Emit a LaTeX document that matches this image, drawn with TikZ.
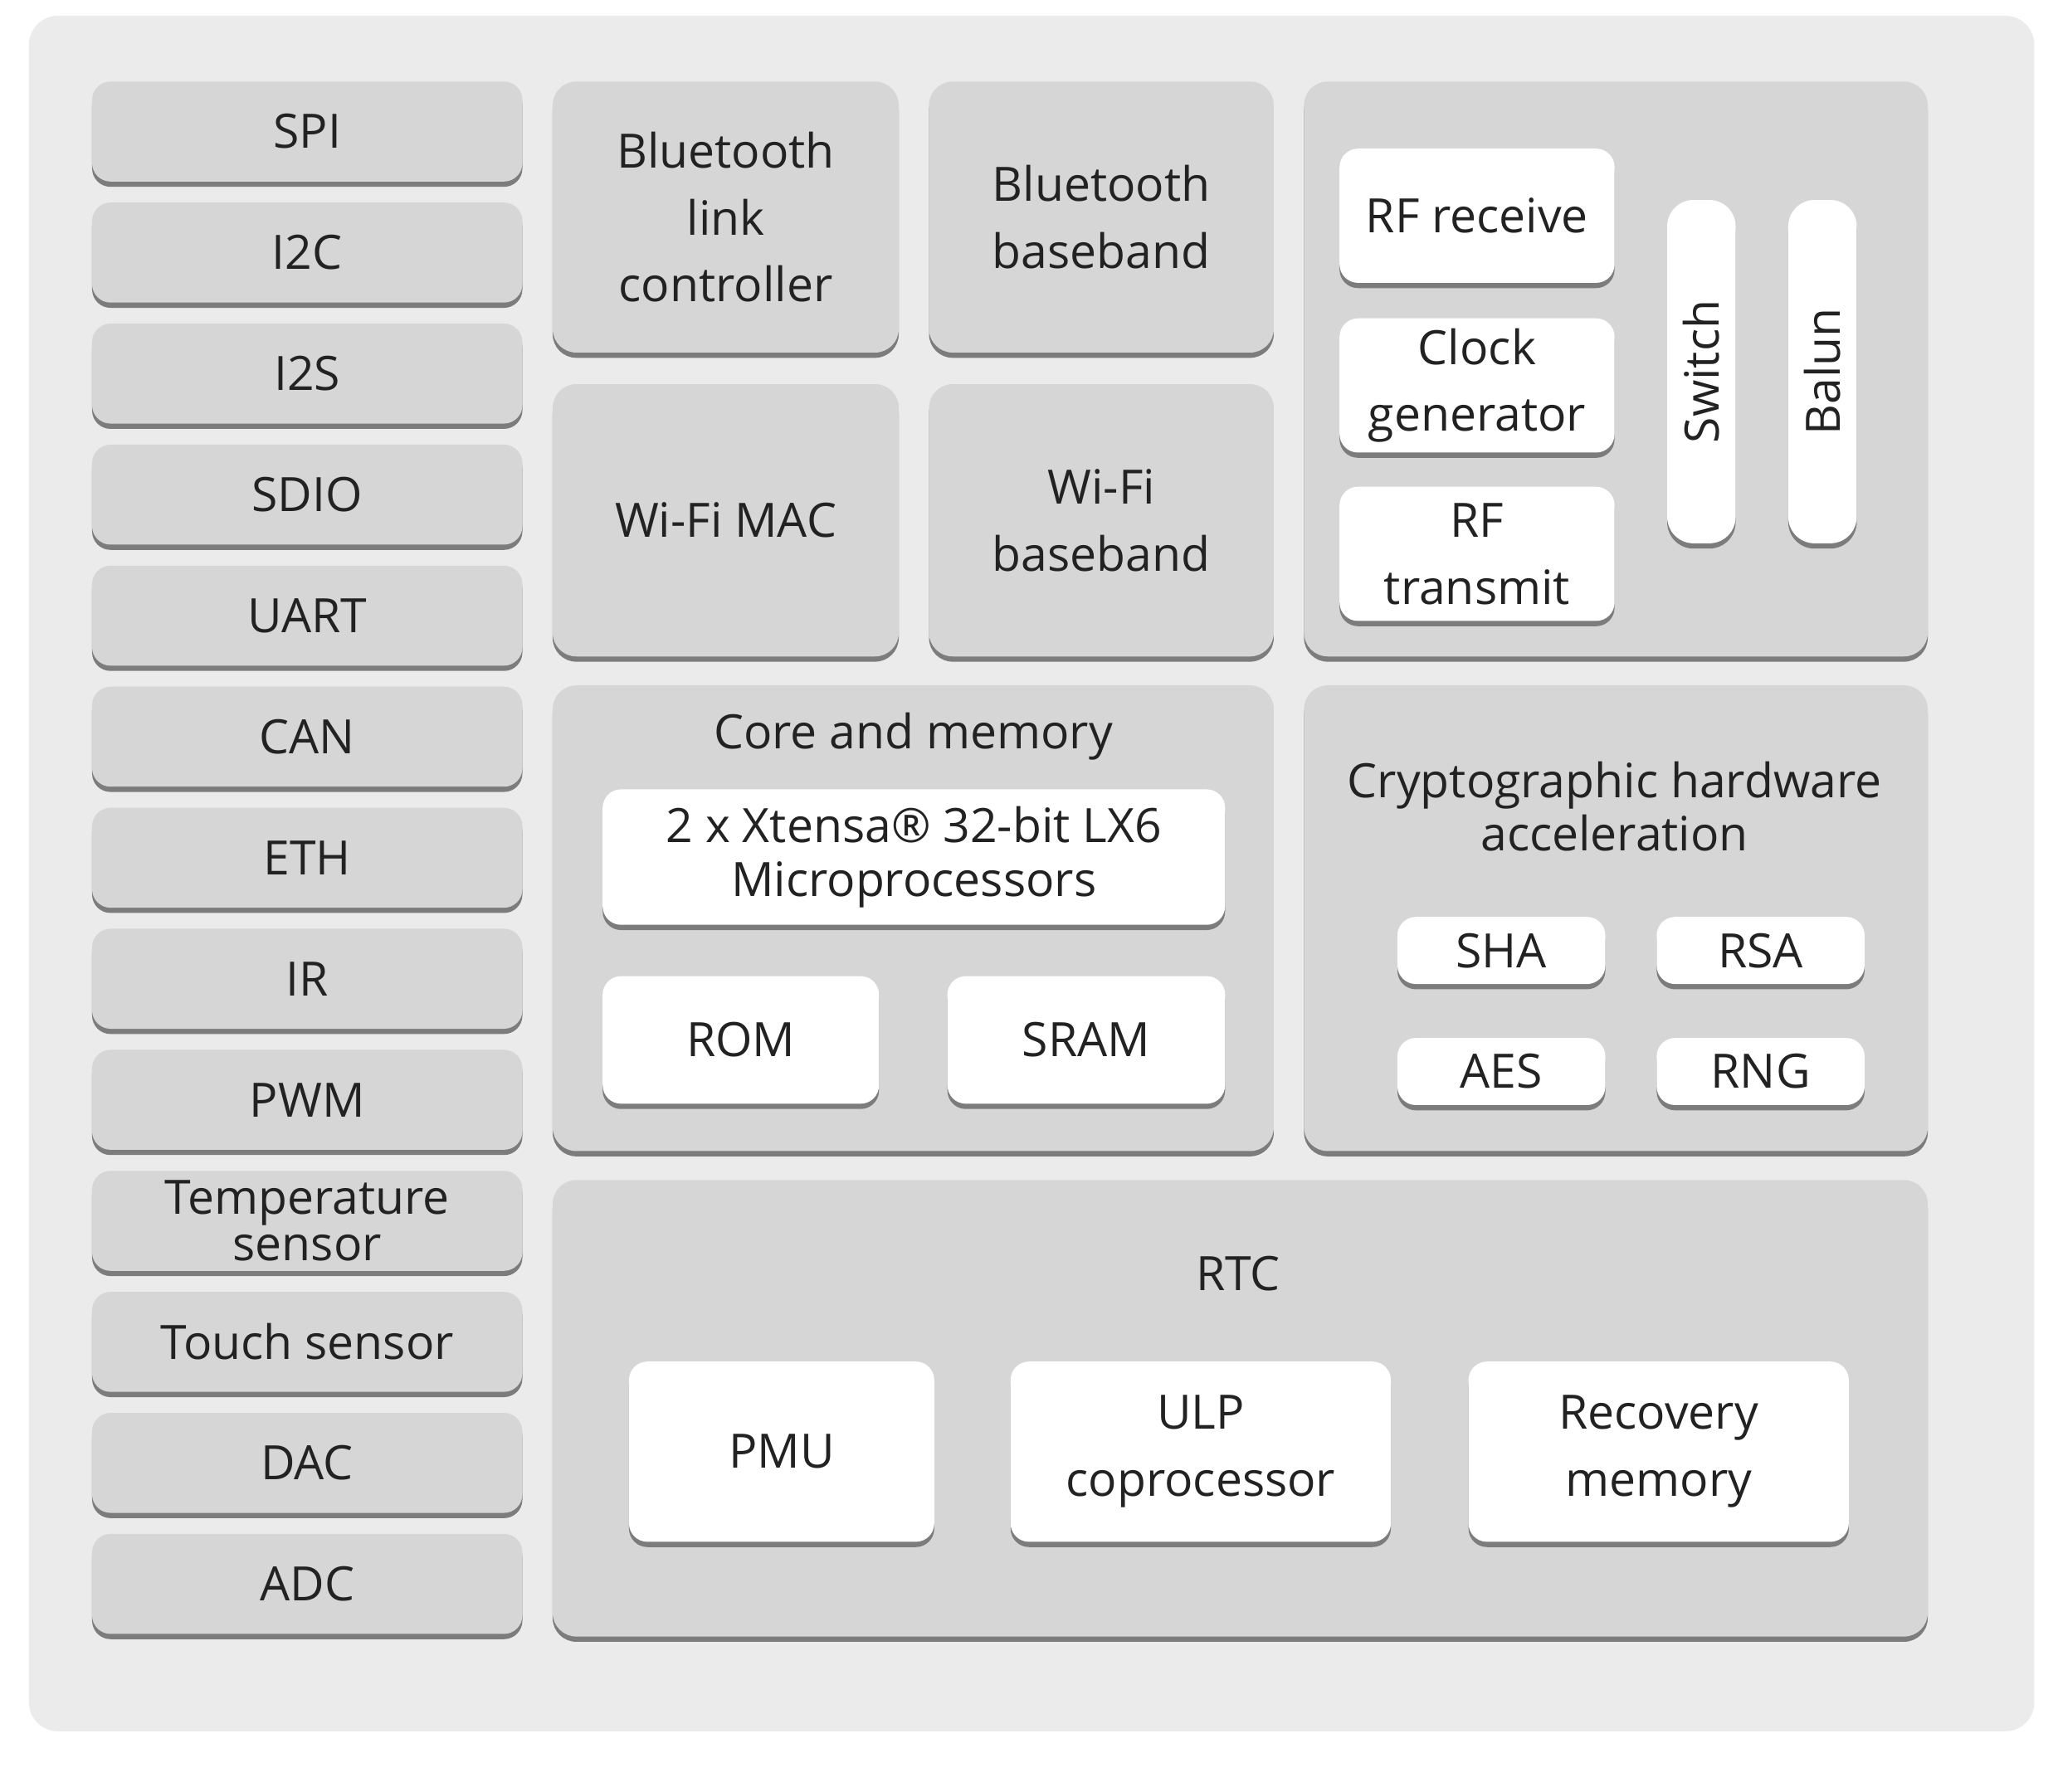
\documentclass[tikz,border=0pt]{standalone}
\usepackage{fontspec}
\setmainfont{Open Sans}
\usetikzlibrary{shadows}
\definecolor{outerc}{HTML}{EBEBEB}
\definecolor{boxc}{HTML}{D6D6D6}
\definecolor{shadc}{HTML}{7C7C7C}
\definecolor{txtc}{HTML}{222222}
\tikzset{
  base/.style={inner sep=0pt, align=center, text=txtc, font=\fontsize{36}{51}\selectfont,
    general shadow={fill=shadc, shadow yshift=-4pt}},
  greybox/.style={base, fill=boxc, rounded corners=14pt},
  panel/.style={base, fill=boxc, rounded corners=18pt},
  whitebox/.style={base, fill=white, rounded corners=14pt},
  pill/.style={base, fill=white, rounded corners=20pt},
  title/.style={inner sep=0pt, align=center, text=txtc, font=\fontsize{36}{40}\selectfont},
  tight/.style={font=\fontsize{36}{35}\selectfont},
  mid/.style={font=\fontsize{36}{41}\selectfont},
}
\newcommand\blk[7]{\node[#2, minimum width={(#5-#3)*1pt}, minimum height={(#6-#4)*1pt}] (#1) at ({(#3+#5)/2},{(#4+#6)/2}) {#7};}
\begin{document}
\begin{tikzpicture}[x=1pt,y=-1pt]
\useasboundingbox (0,0) rectangle (1564,1362);
\fill[white] (0,0) rectangle (1564,1362);
\fill[outerc, rounded corners=22pt] (22,12) rectangle (1546,1316);
% left column
\blk{spi}{greybox}{70}{62}{397}{138}{SPI}
\blk{iic}{greybox}{70}{154}{397}{230}{I2C}
\blk{iis}{greybox}{70}{246}{397}{322}{I2S}
\blk{sdio}{greybox}{70}{338}{397}{414}{SDIO}
\blk{uart}{greybox}{70}{430}{397}{506}{UART}
\blk{can}{greybox}{70}{522}{397}{598}{CAN}
\blk{eth}{greybox}{70}{614}{397}{690}{ETH}
\blk{ir}{greybox}{70}{706}{397}{782}{IR}
\blk{pwm}{greybox}{70}{798}{397}{874}{PWM}
\blk{temp}{greybox,tight}{70}{890}{397}{966}{Temperature\\sensor}
\blk{touch}{greybox}{70}{982}{397}{1058}{Touch sensor}
\blk{dac}{greybox}{70}{1074}{397}{1150}{DAC}
\blk{adc}{greybox}{70}{1166}{397}{1242}{ADC}
% radio blocks
\blk{blc}{panel}{420}{62}{683}{268}{Bluetooth\\link\\controller}
\blk{bbb}{panel}{706}{62}{968}{268}{Bluetooth\\baseband}
\blk{wmac}{panel}{420}{292}{683}{499}{Wi-Fi MAC}
\blk{wbb}{panel}{706}{292}{968}{499}{Wi-Fi\\baseband}
\blk{rf}{panel}{991}{62}{1465}{499}{}
\blk{rfrx}{whitebox}{1018}{113}{1227}{215}{RF receive}
\blk{clk}{whitebox}{1018}{242}{1227}{344}{Clock\\generator}
\blk{rftx}{whitebox}{1018}{370}{1227}{472}{RF\\transmit}
\blk{sw}{pill}{1267}{152}{1319}{413}{}
\blk{bal}{pill}{1359}{152}{1411}{413}{}
\node[title, rotate=90] (swt) at (sw.center) {Switch};
\node[title, rotate=90] (balt) at (bal.center) {Balun};
% core and memory
\blk{core}{panel}{420}{521}{968}{875}{}
\node[title] (coret) at (694,560) {Core and memory};
\blk{mpu}{whitebox,mid}{458}{600}{931}{703}{2 x Xtensa® 32-bit LX6\\Microprocessors}
\blk{rom}{whitebox}{458}{742}{668}{839}{ROM}
\blk{sram}{whitebox}{720}{742}{931}{839}{SRAM}
% crypto
\blk{cry}{panel}{991}{521}{1465}{875}{}
\node[title] (cryt) at (1227,613) {Cryptographic hardware\\acceleration};
\blk{sha}{whitebox}{1062}{697}{1220}{748}{SHA}
\blk{rsa}{whitebox}{1259}{697}{1417}{748}{RSA}
\blk{aes}{whitebox}{1062}{789}{1220}{840}{AES}
\blk{rng}{whitebox}{1259}{789}{1417}{840}{RNG}
% RTC
\blk{rtc}{panel}{420}{897}{1465}{1244}{}
\node[title] (rtct) at (941,968) {RTC};
\blk{pmu}{whitebox}{478}{1035}{710}{1172}{PMU}
\blk{ulp}{whitebox}{768}{1035}{1057}{1172}{ULP\\coprocessor}
\blk{rec}{whitebox}{1116}{1035}{1405}{1172}{Recovery\\memory}
\end{tikzpicture}
\end{document}
